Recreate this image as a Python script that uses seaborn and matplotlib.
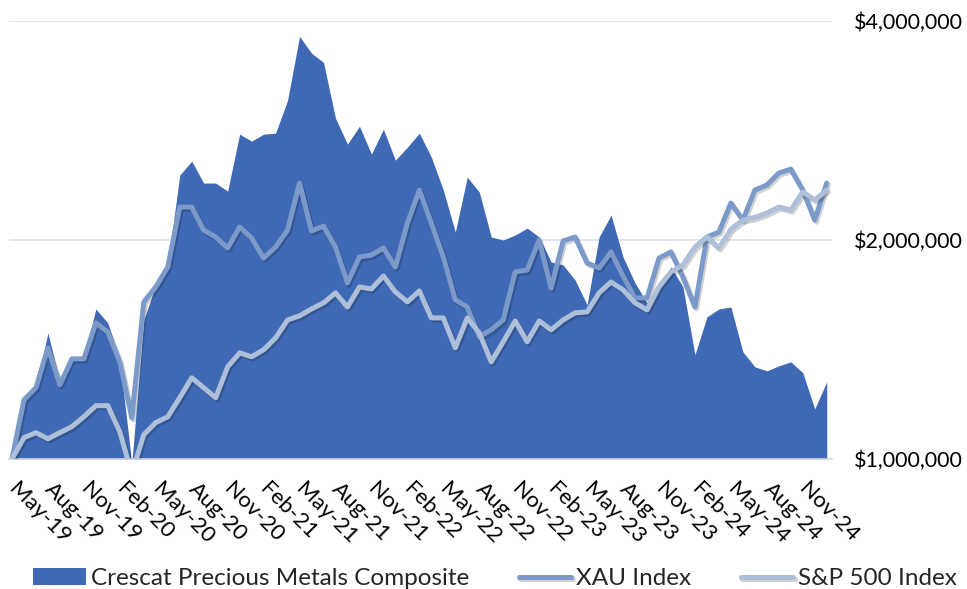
import numpy as np
import pandas as pd
import matplotlib
matplotlib.use("Agg")
import matplotlib.pyplot as plt
import matplotlib.patheffects as pe
import matplotlib.transforms as mtransforms
from matplotlib.ticker import FixedLocator, NullLocator, FixedFormatter
import seaborn as sns

# monthly categories, May-19 .. Jan-25
months = pd.date_range("2019-05-01", periods=69, freq="MS").strftime("%b-%y").tolist()

# growth of $1,000,000 (in $ thousands)
crescat = [1000, 1214, 1257, 1491, 1273, 1377, 1382, 1608, 1538, 1369,
           985, 1553, 1735, 1848, 2456, 2567, 2395, 2395, 2335, 2796,
           2735, 2796, 2805, 3113, 3811, 3612, 3510, 2941, 2709, 2867,
           2625, 2840, 2575, 2683, 2805, 2600, 2342, 2051, 2440, 2328,
           2019, 2000, 2032, 2077, 2019, 1866, 1848, 1762, 1629, 2019,
           2164, 1895, 1746, 1639, 1735, 1836, 1724, 1391, 1568, 1608,
           1618, 1404, 1339, 1322, 1343, 1360, 1314, 1172, 1277]
xau = [1000, 1206, 1253, 1422, 1265, 1373, 1373, 1538, 1495, 1360,
       1139, 1644, 1724, 1836, 2220, 2220, 2064, 2019, 1950, 2084,
       2013, 1889, 1956, 2064, 2395, 2058, 2090, 1956, 1746, 1895,
       1907, 1950, 1836, 2110, 2342, 2110, 1895, 1655, 1618, 1472,
       1505, 1553, 1808, 1819, 2000, 1718, 1994, 2019, 1860, 1830,
       1926, 1785, 1665, 1665, 1889, 1926, 1779, 1618, 2019, 2051,
       2248, 2130, 2342, 2380, 2472, 2503, 2342, 2130, 2395]
spx = [1000, 1070, 1087, 1066, 1087, 1108, 1143, 1184, 1184, 1090,
       955, 1080, 1122, 1143, 1214, 1293, 1253, 1214, 1339, 1399,
       1382, 1413, 1467, 1553, 1573, 1608, 1639, 1692, 1618, 1724,
       1713, 1785, 1697, 1644, 1702, 1563, 1563, 1422, 1563, 1491,
       1360, 1449, 1548, 1449, 1548, 1505, 1553, 1588, 1593, 1692,
       1751, 1708, 1639, 1603, 1724, 1808, 1848, 1956, 2019, 1950,
       2070, 2130, 2148, 2178, 2220, 2200, 2328, 2270, 2342]

series_names = ["Crescat Precious Metals Composite", "XAU Index", "S&P 500 Index"]
y_ticks = [1_000_000, 2_000_000, 4_000_000]
y_tick_labels = ["$1,000,000", "$2,000,000", "$4,000,000"]

AREA = "#3F69B4"
XAU_C = "#7B9AC9"
SPX_C = "#AEBFDA"

df = pd.DataFrame({
    "idx": np.arange(len(months)),
    "month": months,
    "crescat": np.array(crescat) * 1000,
    "xau": np.array(xau) * 1000,
    "spx": np.array(spx) * 1000,
})

sns.set_style("white")
plt.rcParams["font.family"] = ["Lato", "DejaVu Sans"]

fig = plt.figure(figsize=(9.67, 5.89), dpi=100)
ax = fig.add_axes([0.0093, 0.2207, 0.8511, 0.7436])

ax.fill_between(df["idx"], df["crescat"], 1e6, color=AREA, linewidth=0,
                zorder=2, label=series_names[0])

shadow = [pe.SimpleLineShadow(offset=(1.2, -1.5), shadow_color="black", alpha=0.18), pe.Normal()]
sns.lineplot(data=df, x="idx", y="xau", color=XAU_C, linewidth=3.6, ax=ax,
             label=series_names[1], solid_capstyle="round", solid_joinstyle="round",
             path_effects=shadow, zorder=3)
sns.lineplot(data=df, x="idx", y="spx", color=SPX_C, linewidth=3.6, ax=ax,
             label=series_names[2], solid_capstyle="round", solid_joinstyle="round",
             path_effects=shadow, zorder=4)

# log-2 value axis on the right
ax.set_yscale("log", base=2)
ax.set_ylim(1e6, 4e6)
ax.yaxis.set_major_locator(FixedLocator(y_ticks))
ax.yaxis.set_major_formatter(FixedFormatter(y_tick_labels))
ax.yaxis.set_minor_locator(NullLocator())
ax.yaxis.tick_right()
ax.tick_params(axis="y", length=0, pad=16, labelsize=15.5, labelcolor="black")

# category axis
x0, x1 = -0.25, 68.44
ax.set_xlim(x0, x1)
lab_pos = df["idx"].values[::3]
ax.xaxis.set_major_locator(FixedLocator(lab_pos))
ax.xaxis.set_major_formatter(FixedFormatter(df["month"].values[::3]))
ax.xaxis.set_minor_locator(FixedLocator(np.linspace(x0, x1, 24)))
ax.tick_params(axis="x", which="major", length=0, pad=14, labelsize=16, labelcolor="black")
ax.tick_params(axis="x", which="minor", length=4, width=1.2, color="#D9D9D9", direction="out")
shift = mtransforms.ScaledTranslation(0.07, 0, fig.dpi_scale_trans)
for lbl in ax.get_xticklabels():
    lbl.set_rotation(-45)
    lbl.set_ha("left")
    lbl.set_va("top")
    lbl.set_rotation_mode("anchor")
    lbl.set_transform(lbl.get_transform() + shift)

ax.set_xlabel("")
ax.set_ylabel("")
for s in ["top", "left", "right"]:
    ax.spines[s].set_visible(False)
ax.spines["bottom"].set_color("#D9D9D9")
ax.spines["bottom"].set_linewidth(1.2)
ax.set_axisbelow(True)
ax.grid(axis="y", color="#DAE3F3", linewidth=1.3)
ax.grid(axis="x", visible=False)

handles, labels = ax.get_legend_handles_labels()
ax.get_legend().remove()
fig.legend(handles, labels, loc="center", bbox_to_anchor=(0.512, 0.017), ncol=3,
           frameon=False, fontsize=17.5, handlelength=2.15, handletextpad=0.2,
           columnspacing=2.05, borderaxespad=0)

fig.savefig("out.png", dpi=100)
